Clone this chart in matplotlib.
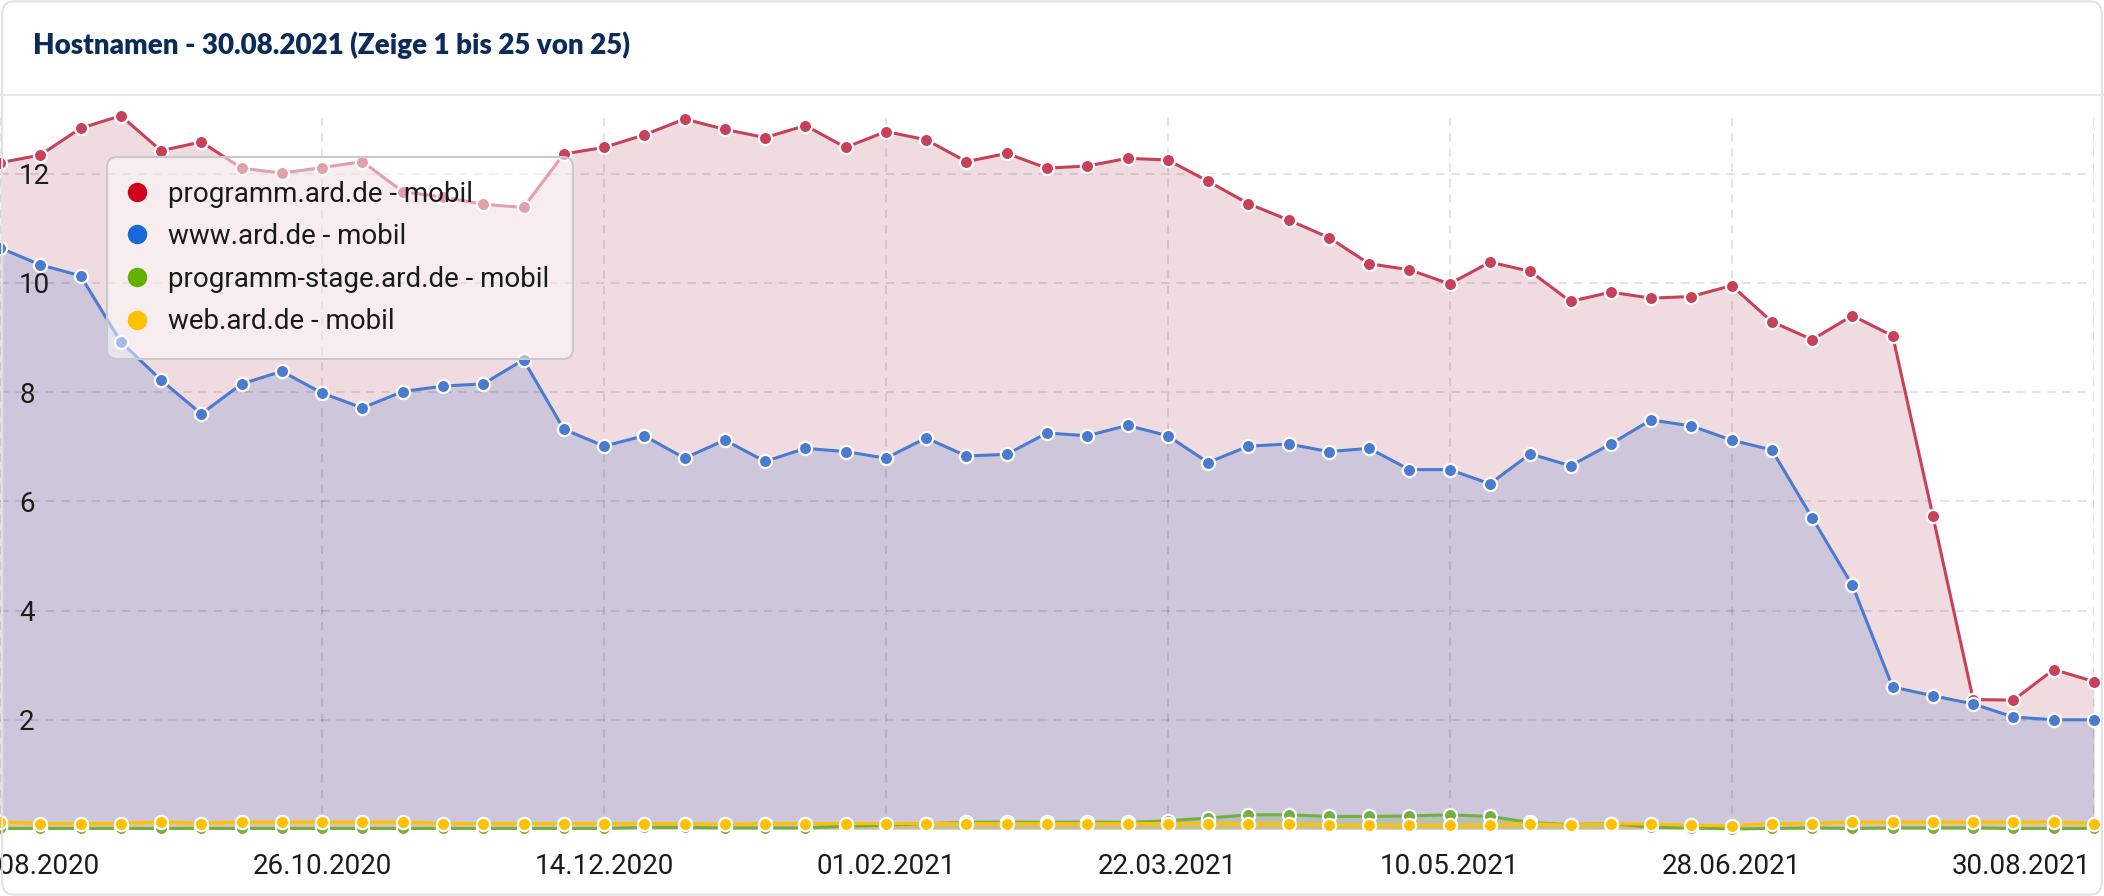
import matplotlib
matplotlib.use('Agg')
import matplotlib.pyplot as plt
import matplotlib.transforms as mtransforms
from matplotlib.lines import Line2D
from matplotlib.patches import FancyBboxPatch
import pandas as pd

# weekly values, 31.08.2020 - 30.08.2021
dates = pd.date_range('2020-08-31', periods=53, freq='7D')

programm = [12.20, 12.34, 12.83, 13.06, 12.42, 12.58, 12.10, 12.01, 12.11, 12.22, 11.67, 11.57, 11.44, 11.38,
            12.36, 12.48, 12.71, 13.00, 12.81, 12.66, 12.88, 12.48, 12.77, 12.62, 12.22, 12.37, 12.10,
            12.14, 12.28, 12.25, 11.86, 11.45, 11.15, 10.83, 10.35, 10.24, 9.98, 10.38, 10.21, 9.66,
            9.83, 9.72, 9.75, 9.95, 9.29, 8.96, 9.40, 9.03, 5.73, 2.37, 2.36, 2.92, 2.70]
www = [10.64, 10.33, 10.13, 8.92, 8.22, 7.60, 8.15, 8.38, 7.98, 7.71, 8.01, 8.11, 8.15, 8.59,
       7.32, 7.01, 7.20, 6.79, 7.12, 6.73, 6.97, 6.91, 6.79, 7.16, 6.83, 6.86, 7.25,
       7.20, 7.39, 7.20, 6.71, 7.01, 7.05, 6.91, 6.97, 6.58, 6.58, 6.32, 6.87, 6.65,
       7.05, 7.49, 7.38, 7.12, 6.94, 5.70, 4.46, 2.60, 2.44, 2.29, 2.05, 2.00, 2.00]
stage = [0.01, 0.01, 0.01, 0.01, 0.01, 0.01, 0.01, 0.01, 0.01, 0.01, 0.01, 0.01, 0.01, 0.01,
         0.01, 0.01, 0.03, 0.03, 0.02, 0.02, 0.02, 0.05, 0.07, 0.10, 0.12, 0.13, 0.12,
         0.13, 0.12, 0.15, 0.20, 0.26, 0.26, 0.23, 0.23, 0.24, 0.26, 0.23, 0.12, 0.08,
         0.10, 0.03, 0.02, 0.00, 0.01, 0.02, 0.01, 0.02, 0.02, 0.02, 0.01, 0.01, 0.01]
web = [0.13, 0.10, 0.10, 0.10, 0.13, 0.10, 0.13, 0.13, 0.13, 0.13, 0.13, 0.10, 0.10, 0.10,
       0.10, 0.10, 0.10, 0.10, 0.09, 0.10, 0.10, 0.10, 0.10, 0.10, 0.10, 0.10, 0.10,
       0.10, 0.10, 0.10, 0.10, 0.10, 0.10, 0.07, 0.07, 0.07, 0.07, 0.07, 0.10, 0.07,
       0.10, 0.09, 0.07, 0.06, 0.10, 0.10, 0.13, 0.13, 0.13, 0.13, 0.13, 0.13, 0.10]

labels = ['programm.ard.de - mobil', 'www.ard.de - mobil',
          'programm-stage.ard.de - mobil', 'web.ard.de - mobil']
tick_dates = pd.to_datetime(['2020-08-31', '2020-10-26', '2020-12-14', '2021-02-01',
                             '2021-03-22', '2021-05-10', '2021-06-28', '2021-08-30'])
y_ticks = [2, 4, 6, 8, 10, 12]

line_colors = ['#c8405a', '#4a7bd0', '#72b043', '#ffc000']
fill_colors = [('#b45064', 0.2), ('#4673cc', 0.2), ('#72b043', 0.25), ('#ffc000', 0.25)]
legend_colors = ['#d0021b', '#1569d8', '#64b000', '#ffc000']

W, H = 2104, 896
fig = plt.figure(figsize=(W / 100, H / 100), dpi=100)
ax = fig.add_axes([0, 67 / H, 2094 / W, 716 / H])

for vals, lc, (fc, fa) in zip([programm, www, stage, web], line_colors, fill_colors):
    ax.fill_between(dates, 0, vals, color=fc, alpha=fa, lw=0, zorder=1)
for k, (vals, lc) in enumerate(zip([programm, www, stage, web], line_colors)):
    ax.plot(dates, vals, color=lc, lw=2.2, marker='o', ms=9.5, mfc=lc, mec='white',
            mew=1.6, zorder=3 + k, clip_on=False)

ax.set_xlim(dates[0], dates[-1])
ax.set_ylim(0, 13.11)
ax.set_xticks(tick_dates)
ax.set_xticklabels([d.strftime('%d.%m.%Y') for d in tick_dates])
ax.set_yticks(y_ticks)
ax.set_yticklabels([str(v) for v in y_ticks])

for s in ax.spines.values():
    s.set_visible(False)
ax.set_axisbelow(False)
ax.grid(True, color='#000000', alpha=0.14, lw=1.1, ls=(0, (5.5, 4.5)))
ax.tick_params(axis='x', length=0, pad=17, labelsize=20, labelcolor='#1b1b1b')
ax.tick_params(axis='y', length=0, pad=-13.7, labelsize=20, labelcolor='#1b1b1b')
for lab in ax.get_yticklabels():
    lab.set_horizontalalignment('left')
    lab.set_fontfamily('Roboto')
for lab in ax.get_xticklabels():
    lab.set_fontfamily('Roboto')
# first date label sits partly outside the card, the last one is pulled inside
xlabs = ax.get_xticklabels()
xlabs[0].set_transform(xlabs[0].get_transform() + mtransforms.ScaledTranslation(0.30, 0, fig.dpi_scale_trans))
xlabs[-1].set_horizontalalignment('right')
xlabs[-1].set_transform(xlabs[-1].get_transform() + mtransforms.ScaledTranslation(-0.03, 0, fig.dpi_scale_trans))

handles = [Line2D([], [], ls='none', marker='o', ms=14, mfc=c, mec=c, mew=0) for c in legend_colors]
leg = fig.legend(handles, labels, loc='upper left', bbox_to_anchor=(107 / W, 1 - 157 / H),
                 bbox_transform=fig.transFigure, prop={'family': 'Roboto', 'size': 20},
                 handlelength=0.46, handletextpad=0.88, borderpad=0.85, labelspacing=0.56,
                 borderaxespad=0, fancybox=True, frameon=True)
for t in leg.get_texts():
    t.set_color('#1a1a1a')
frame = leg.get_frame()
frame.set_boxstyle('round,pad=0,rounding_size=0.35')
frame.set_alpha(None)
frame.set_facecolor((1, 1, 1, 0.5))
frame.set_edgecolor('#c9c9c9')
frame.set_linewidth(1.5)
leg.set_zorder(10)

fig.text(33 / W, 1 - 45 / H, 'Hostnamen - 30.08.2021 (Zeige 1 bis 25 von 25)',
         ha='left', va='center', fontsize=20, fontweight='heavy', color='#0c2b5b', family='Lato')
fig.add_artist(Line2D([0, 1], [1 - 95 / H] * 2, transform=fig.transFigure, color='#e9e9e9', lw=1.5))
fig.patches.append(FancyBboxPatch((0.001, 0.0015), 0.998, 0.997, boxstyle='round,pad=0,rounding_size=0.006',
                                  mutation_aspect=W / H, transform=fig.transFigure,
                                  fc='none', ec='#e2e2e2', lw=1.5))

fig.savefig('out.png', dpi=100)
